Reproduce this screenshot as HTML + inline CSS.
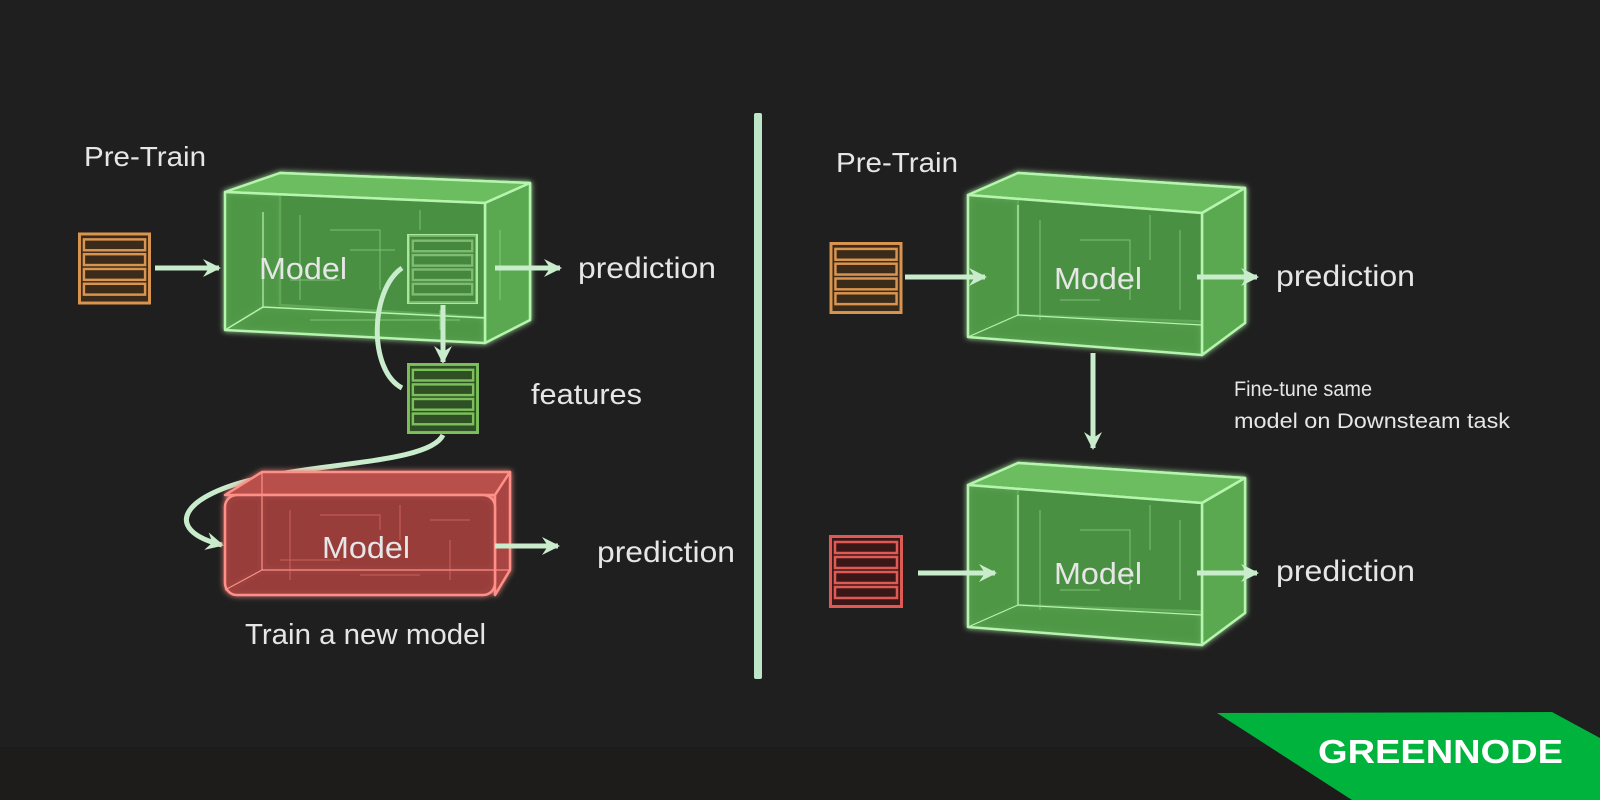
<!DOCTYPE html>
<html><head><meta charset="utf-8"><style>
html,body{margin:0;padding:0;background:#1f1f1f;}
svg{display:block}
text{font-family:"Liberation Sans",sans-serif;fill:#e6e6e6;}
</style></head><body>
<svg width="1600" height="800" viewBox="0 0 1600 800" xmlns="http://www.w3.org/2000/svg">
<defs>
<filter id="glow" x="-20%" y="-20%" width="140%" height="140%">
<feGaussianBlur stdDeviation="3" result="b"/>
<feMerge><feMergeNode in="b"/><feMergeNode in="SourceGraphic"/></feMerge>
</filter>
<marker id="ah" markerWidth="20" markerHeight="20" refX="16" refY="10" orient="auto" markerUnits="userSpaceOnUse" viewBox="0 0 20 20">
<path d="M0,1 L18,10 L0,19 L6,10 Z" fill="#c8eccc"/>
</marker>
<symbol id="stk" viewBox="0 0 74 73">
<rect x="1.5" y="1.5" width="71" height="70" fill="none" stroke="currentColor" stroke-width="3"/>
<g stroke="currentColor" stroke-width="2.5" fill="none">
<rect x="6" y="7" width="62" height="11"/><rect x="6" y="22" width="62" height="11"/><rect x="6" y="37" width="62" height="11"/><rect x="6" y="52" width="62" height="11"/>
</g>
</symbol>
</defs>
<rect x="0" y="747" width="1600" height="53" fill="#1d1c1b"/>

<rect x="754" y="113" width="8" height="566" rx="2" fill="#bde6c8"/>

<g filter="url(#glow)" stroke="#b6f5ae" stroke-width="2.5" stroke-linejoin="round">
<polygon points="280,173 530,183 530,320 280,305" fill="#2f5a2b"/>
<polygon points="225,192 280,173 530,183 485,203" fill="#6cbc60"/>
<polygon points="485,203 530,183 530,320 485,343" fill="#5aa84f"/>
<polygon points="225,192 485,203 485,343 225,330" fill="#4f9a46" fill-opacity="0.85"/>
<line x1="225" y1="330" x2="263" y2="307" stroke-width="1.5"/>
<line x1="263" y1="307" x2="485" y2="318" stroke-width="1.5"/>
<line x1="263" y1="212" x2="263" y2="307" stroke-width="1.2"/>
</g>
<g stroke="#9fe596" stroke-width="1" fill="none" opacity="0.6">
<path d="M300,215 V300 M330,230 H380 V290 M420,210 V230 M350,250 H395 M290,280 H340 M440,310 V330 M500,230 V300 M310,320 H460"/>
</g>
<use href="#stk" x="407" y="233" width="71" height="72" color="#a8e89a"/>
<rect x="409" y="235" width="67" height="68" fill="#3f7a36" opacity="0.4"/>
<text x="259" y="279" font-size="31" textLength="88" lengthAdjust="spacingAndGlyphs">Model</text>

<rect x="79" y="233" width="71" height="71" fill="#3b2b1b"/>
<use href="#stk" x="78" y="232" width="73" height="73" color="#d99550"/>
<line x1="155" y1="268" x2="219" y2="268" stroke="#c8eccc" stroke-width="5" marker-end="url(#ah)"/>
<line x1="495" y1="268" x2="560" y2="268" stroke="#c8eccc" stroke-width="5" marker-end="url(#ah)"/>
<text x="578" y="278" font-size="30" textLength="138" lengthAdjust="spacingAndGlyphs">prediction</text>

<line x1="443" y1="305" x2="443" y2="362" stroke="#c8eccc" stroke-width="5" marker-end="url(#ah)"/>
<path d="M402,268 C370,290 368,370 402,388" fill="none" stroke="#c8eccc" stroke-width="5"/>
<rect x="408" y="364" width="70" height="69" fill="#2f4f25"/>
<use href="#stk" x="407" y="363" width="72" height="71" color="#7cc05c"/>
<text x="531" y="404" font-size="29" textLength="111" lengthAdjust="spacingAndGlyphs">features</text>

<path d="M443,435 C430,462 330,462 260,478 C180,495 162,530 222,545" fill="none" stroke="#c8eccc" stroke-width="5" marker-end="url(#ah)"/>

<g filter="url(#glow)" stroke="#ff9088" stroke-width="2.5" stroke-linejoin="round">
<polygon points="225,495 262,472 510,472 495,495" fill="#b8504c"/>
<polygon points="495,495 510,472 510,570 495,595" fill="#a84542"/>
<rect x="225" y="495" width="270" height="100" rx="12" fill="#9a3e3c" fill-opacity="0.9"/>
<line x1="262" y1="472" x2="262" y2="570" stroke-width="1.2"/>
<line x1="225" y1="590" x2="262" y2="570" stroke-width="1.2"/>
<line x1="262" y1="570" x2="510" y2="570" stroke-width="1.2"/>
</g>
<g stroke="#e87a74" stroke-width="1" fill="none" opacity="0.6">
<path d="M290,510 V580 M320,515 H380 V530 M400,505 V540 M430,520 H470 M280,560 H340 M360,575 H420 M450,540 V580"/>
</g>
<text x="322" y="558" font-size="31" textLength="88" lengthAdjust="spacingAndGlyphs">Model</text>
<line x1="495" y1="546" x2="558" y2="546" stroke="#c8eccc" stroke-width="5" marker-end="url(#ah)"/>
<text x="597" y="562" font-size="30" textLength="138" lengthAdjust="spacingAndGlyphs">prediction</text>
<text x="245" y="644" font-size="29" textLength="241" lengthAdjust="spacingAndGlyphs">Train a new model</text>
<text x="84" y="166" font-size="28" textLength="122" lengthAdjust="spacingAndGlyphs">Pre-Train</text>

<text x="836" y="172" font-size="28" textLength="122" lengthAdjust="spacingAndGlyphs">Pre-Train</text>

<g filter="url(#glow)" stroke="#b6f5ae" stroke-width="2.5" stroke-linejoin="round">
<polygon points="1018,173 1245,188 1245,323 1018,315" fill="#2f5a2b"/>
<polygon points="968,195 1018,173 1245,188 1202,213" fill="#6cbc60"/>
<polygon points="1202,213 1245,188 1245,323 1202,355" fill="#5aa84f"/>
<polygon points="968,195 1202,213 1202,355 968,337" fill="#4f9a46" fill-opacity="0.85"/>
<line x1="1018" y1="205" x2="1018" y2="315" stroke-width="1.2"/>
<line x1="968" y1="337" x2="1018" y2="315" stroke-width="1.2"/>
<line x1="1018" y1="315" x2="1202" y2="325" stroke-width="1.2"/>
</g>
<g filter="url(#glow)" stroke="#b6f5ae" stroke-width="2.5" stroke-linejoin="round">
<polygon points="1018,463 1245,478 1245,613 1018,605" fill="#2f5a2b"/>
<polygon points="968,485 1018,463 1245,478 1202,503" fill="#6cbc60"/>
<polygon points="1202,503 1245,478 1245,613 1202,645" fill="#5aa84f"/>
<polygon points="968,485 1202,503 1202,645 968,627" fill="#4f9a46" fill-opacity="0.85"/>
<line x1="1018" y1="495" x2="1018" y2="605" stroke-width="1.2"/>
<line x1="968" y1="627" x2="1018" y2="605" stroke-width="1.2"/>
<line x1="1018" y1="605" x2="1202" y2="615" stroke-width="1.2"/>
</g>
<g stroke="#9fe596" stroke-width="1" fill="none" opacity="0.6">
<path d="M1040,220 V320 M1080,240 H1130 V300 M1150,215 V260 M1060,300 H1100 M1180,230 V310"/>
<path d="M1040,510 V610 M1080,530 H1130 V590 M1150,505 V550 M1060,590 H1100 M1180,520 V600"/>
</g>
<text x="1054" y="289" font-size="31" textLength="88" lengthAdjust="spacingAndGlyphs">Model</text>
<text x="1054" y="584" font-size="31" textLength="88" lengthAdjust="spacingAndGlyphs">Model</text>

<rect x="830" y="243" width="72" height="70" fill="#3b2b1b"/>
<use href="#stk" x="829" y="242" width="74" height="72" color="#d99550"/>
<rect x="830" y="536" width="72" height="71" fill="#3a1818"/>
<use href="#stk" x="829" y="535" width="74" height="73" color="#e05a55"/>

<line x1="905" y1="277" x2="985" y2="277" stroke="#c8eccc" stroke-width="5" marker-end="url(#ah)"/>
<line x1="918" y1="573" x2="995" y2="573" stroke="#c8eccc" stroke-width="5" marker-end="url(#ah)"/>
<line x1="1093" y1="353" x2="1093" y2="448" stroke="#c8eccc" stroke-width="5" marker-end="url(#ah)"/>
<line x1="1197" y1="277" x2="1257" y2="277" stroke="#c8eccc" stroke-width="5" marker-end="url(#ah)"/>
<line x1="1197" y1="573" x2="1257" y2="573" stroke="#c8eccc" stroke-width="5" marker-end="url(#ah)"/>
<text x="1276" y="286" font-size="30" textLength="139" lengthAdjust="spacingAndGlyphs">prediction</text>
<text x="1276" y="581" font-size="30" textLength="139" lengthAdjust="spacingAndGlyphs">prediction</text>
<text x="1234" y="396" font-size="21" textLength="138" lengthAdjust="spacingAndGlyphs">Fine-tune same</text>
<text x="1234" y="428" font-size="21" textLength="276" lengthAdjust="spacingAndGlyphs">model on Downsteam task</text>

<polygon points="1217,713 1552,712 1600,738 1600,800 1352,800" fill="#00b33c"/>
<text x="1318" y="763" font-size="33" font-weight="bold" textLength="245" lengthAdjust="spacingAndGlyphs" style="fill:#ffffff">GREENNODE</text>
</svg>
</body></html>
